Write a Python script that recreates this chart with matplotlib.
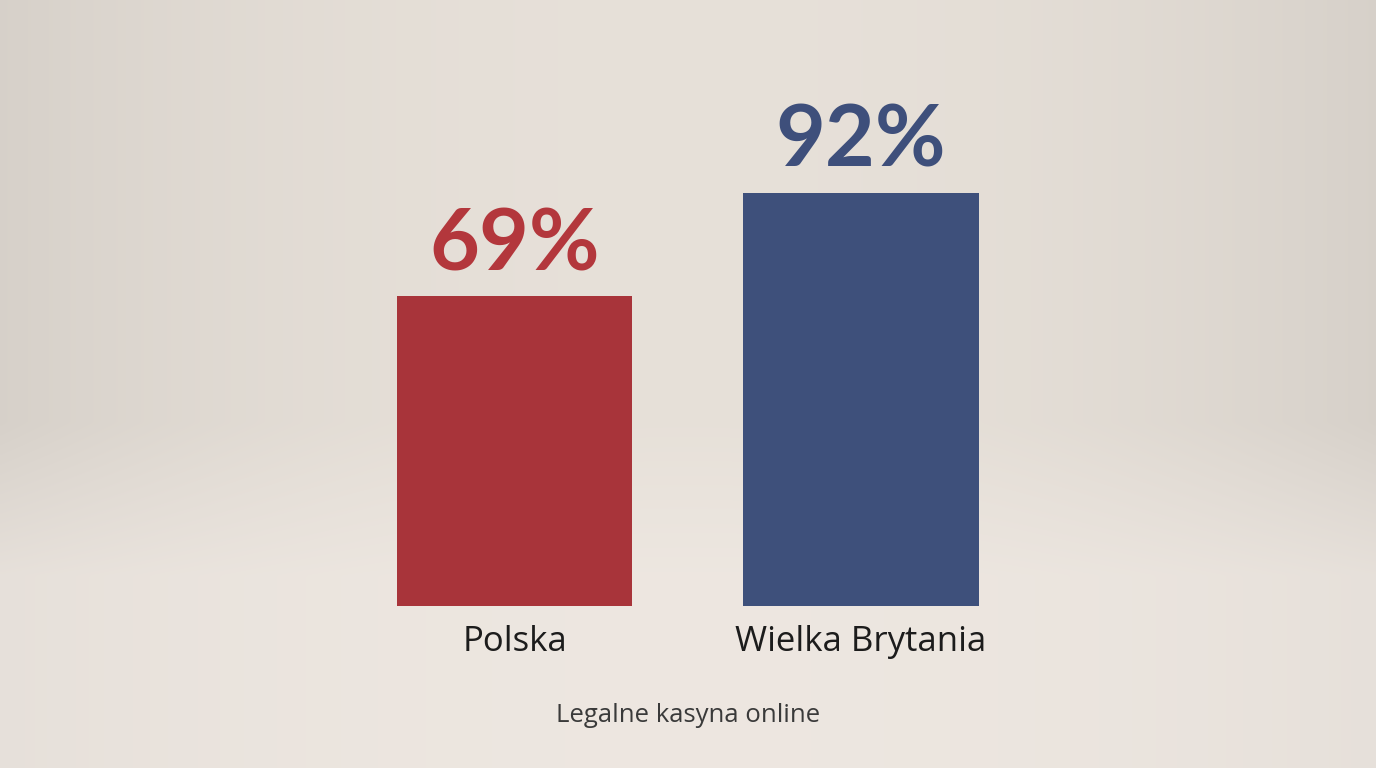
#! /usr/bin/env python3

#Bar chart comparing legal online casinos, Poland vs United Kingdom.

import matplotlib
matplotlib.use('Agg')
import matplotlib.pyplot as plt
import numpy as np

countries = ['Polska', 'Wielka Brytania']
shares = [69, 92]
valueLabels = ['69%', '92%']
barColors = ['#a8343a', '#3e507b']
textColors = ['#b3373c', '#3e4f7b']
subtitle = 'Legalne kasyna online'


def main() :
  fig = plt.figure(figsize = (13.76, 7.68), dpi = 100)

  #Soft beige studio background.
  bg = fig.add_axes([0, 0, 1, 1])
  bg.set_axis_off()
  yy, xx = np.mgrid[0:1:400j, 0:1:700j]
  top = np.array([0.905, 0.880, 0.850])
  floor = np.array([0.930, 0.905, 0.880])
  vert = np.clip((yy - 0.55) / 0.2, 0, 1)[..., None]
  base = top * (1 - vert) + floor * vert
  edge = (np.abs(xx - 0.5) * 2) ** 2.2
  shade = 1 - 0.07 * edge * (1 - 0.6 * vert[..., 0])
  img = base * shade[..., None]
  bg.imshow(img, aspect = 'auto', extent = [0, 1, 0, 1], origin = 'upper',
            interpolation = 'bilinear')
  bg.set_xlim(0, 1)
  bg.set_ylim(0, 1)

  ax = fig.add_axes([0, 0, 1, 1])
  ax.patch.set_alpha(0)
  ax.set_axis_off()

  x = np.arange(len(countries))
  ax.bar(x, shares, width = 0.68, color = barColors, zorder = 2)

  #Axes limits chosen so the bars land where the reference puts them.
  ax.set_xlim(-1.485, 2.486)
  ax.set_ylim(-36.1, 135.0)

  for i in range(len(countries)) :
    ax.text(x[i], shares[i] + 2.5, valueLabels[i], ha = 'center', va = 'bottom',
            fontsize = 62, fontweight = 'bold', family = 'Lato', color = textColors[i])
    ax.text(x[i], -8, countries[i], ha = 'center', va = 'center',
            fontsize = 25, family = 'Open Sans', color = '#1c1c1c')

  ax.text(0.5, -24.3, subtitle, ha = 'center', va = 'center',
          fontsize = 18.5, family = 'Open Sans', color = '#3a3a3a')

  fig.savefig('out.png', dpi = 100)


if __name__ == '__main__':
  main()
